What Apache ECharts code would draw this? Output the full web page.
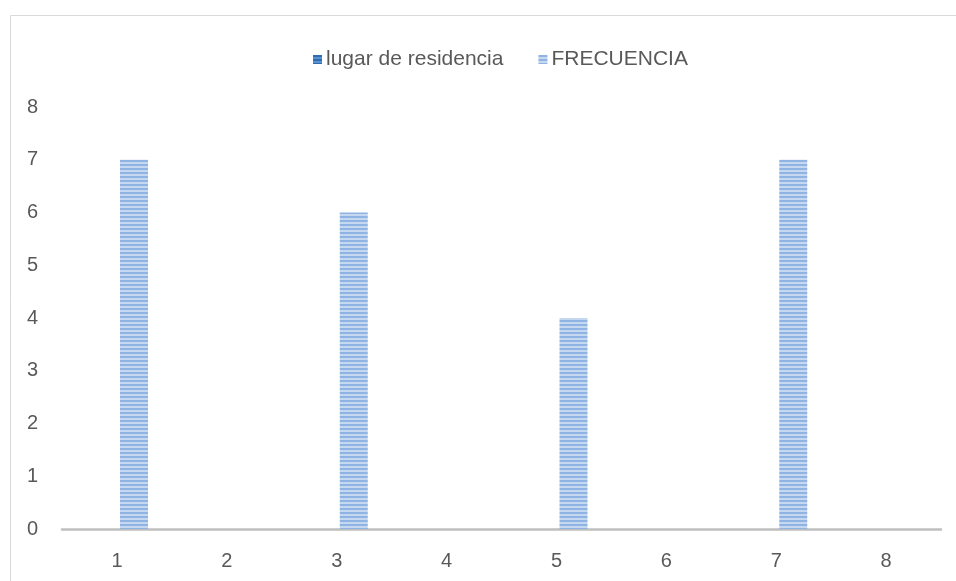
<!DOCTYPE html>
<html><head><meta charset="utf-8">
<script src="https://cdn.jsdelivr.net/npm/echarts@6/dist/echarts.min.js"></script>
<style>html,body{margin:0;padding:0;background:#fff}#c{width:956px;height:581px}</style>
</head><body><div id="c"></div>
<script>
const categories = ['1','2','3','4','5','6','7','8'];
const lugarDeResidencia = [null,null,null,null,null,null,null,null];
const frecuencia = [7,null,6,null,4,null,7,null];
const yTicks = [0,1,2,3,4,5,6,7,8];

function stripe(c1, c2) {
  const cv = document.createElement('canvas');
  cv.width = 4; cv.height = 4;
  const ctx = cv.getContext('2d');
  ctx.fillStyle = c2; ctx.fillRect(0,0,4,4);
  ctx.fillStyle = c1; ctx.fillRect(0,0,4,2);
  return {image: cv, repeat: 'repeat'};
}

const chart = echarts.init(document.getElementById('c'));
const font = '"Liberation Sans", Arial, sans-serif';
chart.setOption({
  animation: false,
  textStyle: {fontFamily: font},
  graphic: [{type:'rect', shape:{x:10.5,y:15.5,width:1000,height:700}, style:{fill:'none', stroke:'#d9d9d9', lineWidth:1}, silent:true}],
  legend: {
    top: 44, left: 308, itemWidth: 9, itemHeight: 9, itemGap: 35,
    icon: 'rect',
    textStyle: {color:'#595959', fontSize: 21, fontFamily: font, padding:[0,0,0,-1]},
    data: ['lugar de residencia','FRECUENCIA']
  },
  grid: {left: 62, right: 15, top: 107, bottom: 52},
  xAxis: {
    type: 'category', data: categories,
    axisLine: {lineStyle: {color:'#bfbfbf', width: 2.5}},
    axisTick: {show:false},
    axisLabel: {color:'#595959', fontSize: 20, margin: 22}
  },
  yAxis: {
    type: 'value', min: 0, max: 8, interval: 1,
    axisLine: {show:false}, axisTick:{show:false}, splitLine:{show:false},
    axisLabel: {color:'#595959', fontSize: 20, margin: 24,
      formatter: v => yTicks.includes(v) ? String(v) : ''}
  },
  series: [
    {name:'lugar de residencia', type:'bar', data: lugarDeResidencia, barWidth: 28, barGap: '22%',
     itemStyle:{color: stripe('#2e6db4','#5b8fd0')}},
    {name:'FRECUENCIA', type:'bar', data: frecuencia, barWidth: 28,
     itemStyle:{color: stripe('#8fb3e2','#c6d8f0')}}
  ]
});
</script></body></html>
